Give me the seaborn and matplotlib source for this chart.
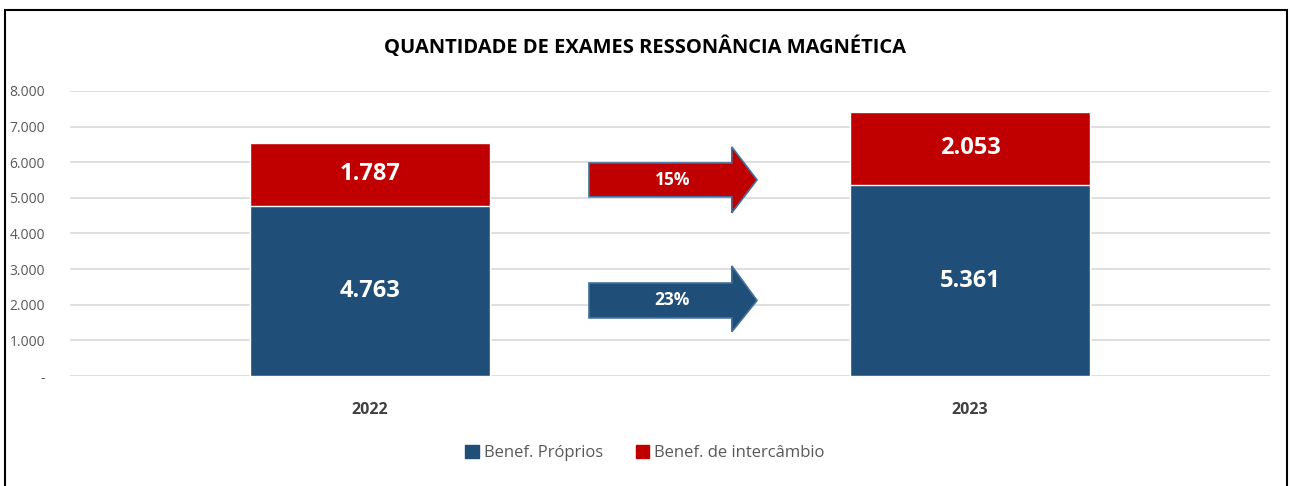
import matplotlib
matplotlib.use("Agg")
from matplotlib import pyplot as plt
from matplotlib.patches import Polygon, Rectangle, Patch
import seaborn as sns
import pandas as pd

anos = ['2022', '2023']
proprios = [4763, 5361]
intercambio = [1787, 2053]
variacao_intercambio = '15%'
variacao_proprios = '23%'
yticks = [0, 1000, 2000, 3000, 4000, 5000, 6000, 7000, 8000]
ytick_labels = ['-', '1.000', '2.000', '3.000', '4.000', '5.000', '6.000', '7.000', '8.000']

azul = '#1F4E79'
vermelho = '#C00000'

df = pd.DataFrame({'ano': anos, 'proprios': proprios, 'intercambio': intercambio})
df['total'] = df['proprios'] + df['intercambio']

sns.set_theme(style="white")
fonte = ['Open Sans', 'DejaVu Sans']
plt.rcParams['font.family'] = fonte

fig = plt.figure(figsize=(12.9, 4.86), dpi=100)
ax = fig.add_axes([70 / 1290, 1 - 376 / 486, 1200 / 1290, 285 / 486])

sns.barplot(data=df, x='ano', y='total', color=vermelho, width=0.4, ax=ax, saturation=1, zorder=3)
sns.barplot(data=df, x='ano', y='proprios', color=azul, width=0.4, ax=ax, saturation=1, zorder=3)

ax.set_xlim(-0.5, 1.5)
ax.set_ylim(0, 8000)
ax.set_yticks(yticks)
ax.set_yticklabels(ytick_labels, color='#595959', fontsize=10)
ax.tick_params(axis='y', length=0, pad=18)
ax.tick_params(axis='x', length=0, pad=19)
for t in ax.get_xticklabels():
    t.set_fontweight('bold')
    t.set_color('#404040')
    t.set_fontsize(11.5)
ax.set_xlabel('')
ax.set_ylabel('')
ax.grid(axis='y', color='#D9D9D9', linewidth=1.2, zorder=0)
for s in ax.spines.values():
    s.set_visible(False)

# rótulos dos valores
for i, row in df.iterrows():
    ax.text(i, row['proprios'] / 2, f"{row['proprios']:,}".replace(',', '.'), ha='center', va='center',
            color='white', fontsize=17, fontweight='bold', zorder=5)
    ax.text(i, row['proprios'] + row['intercambio'] / 2, f"{row['intercambio']:,}".replace(',', '.'),
            ha='center', va='center', color='white', fontsize=17, fontweight='bold', zorder=5)


def seta(y0, y1, h0, h1, cor, texto):
    x0, xh, x1 = 0.365, 0.603, 0.645
    ym = (y0 + y1) / 2
    pts = [(x0, y0), (xh, y0), (xh, h0), (x1, ym), (xh, h1), (xh, y1), (x0, y1)]
    ax.add_patch(Polygon(pts, closed=True, facecolor=cor, edgecolor='#41719C', linewidth=1.2, zorder=4))
    ax.text((x0 + xh) / 2 + 0.02, ym, texto, ha='center', va='center', color='white',
            fontsize=12.5, fontweight='bold', zorder=5)


seta(5030, 5980, 4580, 6430, vermelho, variacao_intercambio)
seta(1630, 2610, 1240, 3090, azul, variacao_proprios)

fig.text(0.5, 1 - 47 / 486, 'QUANTIDADE DE EXAMES RESSONÂNCIA MAGNÉTICA', ha='center', va='center',
         fontsize=14.5, fontweight='bold', color='black')

handles = [Patch(color=azul, label='Benef. Próprios'), Patch(color=vermelho, label='Benef. de intercâmbio')]
fig.legend(handles=handles, loc='center', bbox_to_anchor=(0.5, 1 - 453 / 486), ncol=2, frameon=False,
           handlelength=0.8, handleheight=0.8, handletextpad=0.3, columnspacing=2.0,
           prop={'size': 12}, labelcolor='#595959')

fig.patches.append(Rectangle((5 / 1290, -0.05), 1282 / 1290, 1.05 - 10 / 486, transform=fig.transFigure,
                             fill=False, edgecolor='black', linewidth=1.5))

fig.savefig('out.png', dpi=100)
